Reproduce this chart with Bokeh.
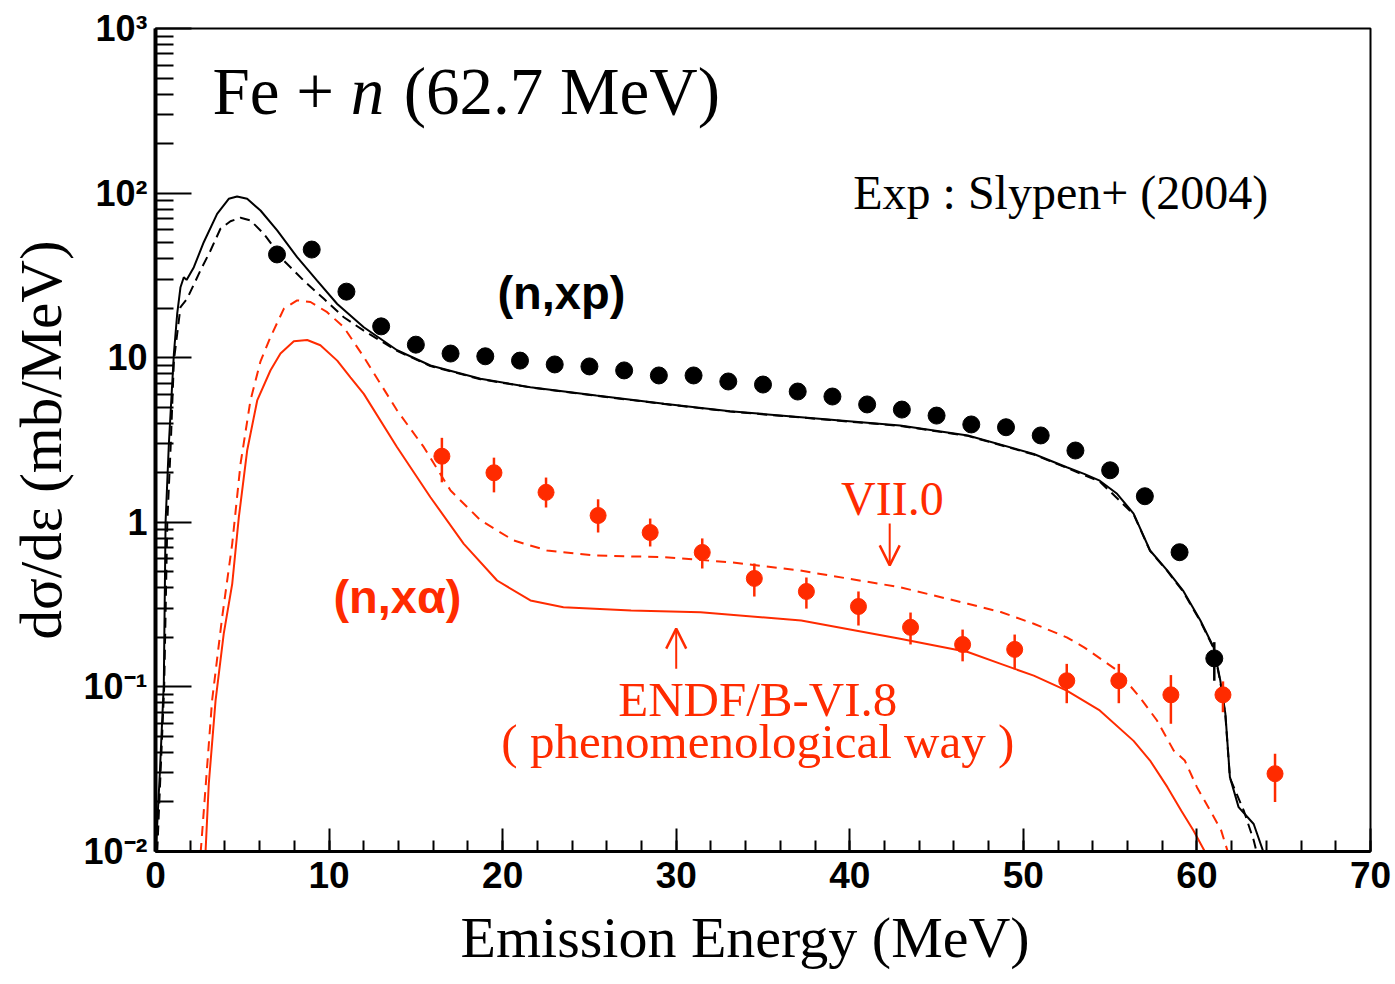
from bokeh.plotting import figure
from bokeh.models import (Label, Arrow, OpenHead, SingleIntervalTicker, FixedTicker,
                          CustomJSTickFormatter, Title)
from bokeh.embed import file_html
from bokeh.resources import INLINE

RED = "#ff2b00"
SERIF = "Liberation Serif"
SANS = "Liberation Sans"

# ---------------- data ----------------
# Experimental (n,xp) : Slypen+ (2004)
xp_exp_E = [7, 9, 11, 13, 15, 17, 19, 21, 23, 25, 27, 29, 31, 33, 35, 37, 39, 41,
            43, 45, 47, 49, 51, 53, 55, 57, 59, 61]
xp_exp_v = [42.4, 45.4, 25.2, 15.5, 12.0, 10.6, 10.2, 9.6, 9.1, 8.85, 8.37, 7.8, 7.8,
            7.17, 6.87, 6.23, 5.81, 5.2, 4.84, 4.45, 3.93, 3.78, 3.37, 2.73, 2.07,
            1.44, 0.658, 0.149]
xp_err_E = [61]
xp_err_lo = [0.109]
xp_err_hi = [0.187]

# Experimental (n,x alpha)
xa_exp_E = [16.5, 19.5, 22.5, 25.5, 28.5, 31.5, 34.5, 37.5, 40.5, 43.5, 46.5, 49.5,
            52.5, 55.5, 58.5, 61.5, 64.5]
xa_exp_v = [2.52, 2.0, 1.52, 1.10, 0.867, 0.656, 0.456, 0.38, 0.308, 0.23, 0.181,
            0.169, 0.109, 0.109, 0.0895, 0.0895, 0.0297]
xa_exp_lo = [1.75, 1.52, 1.23, 0.867, 0.713, 0.524, 0.354, 0.299, 0.236, 0.181, 0.143,
             0.128, 0.0796, 0.0796, 0.0597, 0.0702, 0.020]
xa_exp_hi = [3.26, 2.47, 1.87, 1.38, 1.054, 0.798, 0.562, 0.462, 0.38, 0.283, 0.223,
             0.208, 0.138, 0.138, 0.118, 0.108, 0.0393]

# (n,xp) calculation, solid
xp_solid_E = [0.02, 0.25, 0.48, 0.58, 0.77, 1.06, 1.25, 1.44, 1.63, 1.79, 2.21, 2.78,
              3.55, 4.22, 4.7, 5.28, 6.05, 7.01, 8.16, 9.31, 10.47, 12.0, 13.92, 15.84,
              18.72, 21.6, 25.4, 29.3, 33.1, 37.2, 42.9, 46.8, 50.6, 52.5, 53.5, 54.4,
              55.4, 56.35, 57.3, 58.3, 59.2, 60.2, 60.96, 61.35, 61.64, 61.9, 62.4,
              63.27, 63.85]
xp_solid_v = [0.01, 0.03, 0.105, 1.0, 3.0, 10.6, 18.5, 26.8, 30.8, 29.7, 35.5, 50.3,
              74.8, 92.3, 95.4, 92.3, 78.4, 59.3, 40.8, 29.4, 21.2, 15.3, 11.1, 8.97,
              7.45, 6.62, 5.89, 5.25, 4.73, 4.35, 3.87, 3.37, 2.6, 2.16, 1.97, 1.79,
              1.49, 1.13, 0.674, 0.509, 0.385, 0.253, 0.174, 0.109, 0.0686, 0.0283,
              0.0186, 0.0147, 0.0098]

# (n,xp) calculation, dashed
xp_dash_E = [0.1, 0.5, 0.68, 0.88, 1.06, 1.44, 1.82, 2.59, 3.17, 3.74, 4.32, 4.9, 5.47,
             6.24, 7.39, 8.54, 9.7, 10.85, 12.0, 13.92, 15.84, 18.72, 21.6, 25.4, 29.3,
             33.1, 37.2, 42.9, 46.8, 50.6, 52.5, 54.4, 56.35, 57.3, 58.3, 59.2, 60.2,
             60.96, 61.35, 61.64, 61.9, 62.7, 63.27, 63.45]
xp_dash_v = [0.01, 0.1, 1.0, 3.0, 9.6, 20.3, 22.8, 33.9, 44.8, 60.7, 67.5, 70.8, 68.3,
             56.6, 38.9, 29.4, 22.8, 17.6, 14.6, 11.0, 8.9, 7.4, 6.6, 5.87, 5.23, 4.71,
             4.33, 3.85, 3.35, 2.58, 2.14, 1.77, 1.12, 0.67, 0.505, 0.38, 0.25, 0.172,
             0.107, 0.067, 0.028, 0.0177, 0.0117, 0.0098]

# (n,x alpha) ENDF/B-VI.8, solid
xa_vi8_E = [2.88, 3.07, 3.46, 3.93, 4.42, 4.8, 5.28, 5.86, 6.62, 7.2, 7.97, 8.74, 9.5,
            10.47, 11.23, 12.0, 13.92, 15.84, 17.76, 19.68, 21.6, 23.5, 27.4, 31.4,
            37.2, 42.9, 46.8, 48.7, 50.6, 52.5, 54.4, 56.35, 57.3, 58.3, 59.1, 59.8,
            60.5]
xa_vi8_v = [0.0098, 0.0258, 0.0826, 0.21, 0.423, 1.07, 2.73, 5.5, 8.36, 10.6, 12.6, 12.8,
            11.9, 9.6, 7.6, 6.03, 2.86, 1.42, 0.74, 0.443, 0.335, 0.305, 0.291, 0.284,
            0.253, 0.196, 0.163, 0.138, 0.117, 0.095, 0.072, 0.047, 0.0357, 0.0246,
            0.0177, 0.0134, 0.0098]

# (n,x alpha) ENDF/B-VII.0, dashed
xa_vii0_E = [2.6, 3.26, 3.84, 4.42, 4.9, 5.47, 6.05, 6.62, 7.39, 8.16, 8.93, 9.89, 10.85,
             12.0, 13.92, 15.46, 17.0, 18.72, 20.64, 22.56, 25.4, 29.3, 33.1, 37.15,
             42.9, 46.8, 48.7, 50.6, 52.5, 53.5, 55.4, 56.7, 57.7, 58.66, 59.3, 60.0,
             60.77, 61.4, 61.8]
xa_vii0_v = [0.0098, 0.0826, 0.265, 0.74, 2.27, 5.5, 9.5, 13.3, 19.8, 22.3, 21.8, 18.9,
             15.3, 10.1, 4.78, 2.86, 1.56, 1.03, 0.775, 0.674, 0.628, 0.614, 0.572,
             0.509, 0.403, 0.32, 0.285, 0.242, 0.2, 0.174, 0.126, 0.0867, 0.0625,
             0.0411, 0.0357, 0.0246, 0.0177, 0.0134, 0.0098]

# axis ticks
y_tick_vals = [1000, 100, 10, 1, 0.1, 0.01]
y_tick_labels = ["10³", "10²", "10", "1", "10⁻¹", "10⁻²"]
y_minor = [m * 10.0 ** e for e in range(-2, 3) for m in range(2, 10)]

# ---------------- figure ----------------
p = figure(width=1395, height=984, x_range=(0, 70), y_range=(0.01, 1000),
           y_axis_type="log", output_backend="svg", toolbar_location=None,
           min_border_left=155, min_border_right=25, min_border_top=28,
           min_border_bottom=133)
p.background_fill_color = "white"
p.border_fill_color = "white"
p.outline_line_color = "black"
p.outline_line_width = 2
p.xgrid.visible = False
p.ygrid.visible = False

# x axis
p.xaxis.ticker = SingleIntervalTicker(interval=10, num_minor_ticks=5)
p.xaxis.axis_line_width = 3
p.xaxis.major_tick_in = 23
p.xaxis.major_tick_out = 0
p.xaxis.minor_tick_in = 11
p.xaxis.minor_tick_out = 0
p.xaxis.major_tick_line_width = 2
p.xaxis.minor_tick_line_width = 2
p.xaxis.major_label_text_font = SANS
p.xaxis.major_label_text_font_style = "bold"
p.xaxis.major_label_text_font_size = "37px"
p.xaxis.major_label_text_color = "black"
p.xaxis.major_label_standoff = 10

# x-axis title (placed below the axis, slightly left of centre as in the original)
p.add_layout(Title(text="Emission Energy (MeV)", align="left", offset=305,
                   standoff=25, text_font=SERIF, text_font_style="normal",
                   text_font_size="58px", text_color="black"), "below")

# y axis
p.yaxis.ticker = FixedTicker(ticks=y_tick_vals, minor_ticks=y_minor)
p.yaxis.formatter = CustomJSTickFormatter(
    args=dict(vals=y_tick_vals, labels=y_tick_labels),
    code="""
let best = 0, bd = Infinity;
for (let i = 0; i < vals.length; i++) {
  const d = Math.abs(Math.log10(tick) - Math.log10(vals[i]));
  if (d < bd) { bd = d; best = i; }
}
return labels[best];
""")
p.yaxis.axis_line_width = 4
p.yaxis.major_tick_in = 36
p.yaxis.major_tick_out = 0
p.yaxis.minor_tick_in = 18
p.yaxis.minor_tick_out = 0
p.yaxis.major_tick_line_width = 2
p.yaxis.minor_tick_line_width = 2
p.yaxis.major_label_text_font = SANS
p.yaxis.major_label_text_font_style = "bold"
p.yaxis.major_label_text_font_size = "36px"
p.yaxis.major_label_text_color = "black"
p.yaxis.major_label_standoff = 8
p.yaxis.axis_label = "dσ/dε (mb/MeV)"
p.yaxis.axis_label_text_font = SERIF
p.yaxis.axis_label_text_font_style = "normal"
p.yaxis.axis_label_text_font_size = "59px"
p.yaxis.axis_label_text_color = "black"
p.yaxis.axis_label_standoff = 6

# ---------------- curves ----------------
p.line(xp_solid_E, xp_solid_v, line_color="black", line_width=2)
p.line(xp_dash_E, xp_dash_v, line_color="black", line_width=2, line_dash="10 6")
p.line(xa_vi8_E, xa_vi8_v, line_color=RED, line_width=2)
p.line(xa_vii0_E, xa_vii0_v, line_color=RED, line_width=2, line_dash="10 7")

# ---------------- experimental points ----------------
p.segment(x0=xa_exp_E, y0=xa_exp_lo, x1=xa_exp_E, y1=xa_exp_hi,
          line_color=RED, line_width=2.5)
p.scatter(xa_exp_E, xa_exp_v, size=16, marker="circle", fill_color=RED,
          line_color=RED)
p.segment(x0=xp_err_E, y0=xp_err_lo, x1=xp_err_E, y1=xp_err_hi,
          line_color="black", line_width=2.5)
p.scatter(xp_exp_E, xp_exp_v, size=17, marker="circle", fill_color="black",
          line_color="black")

# ---------------- annotations ----------------
def lab(x, y, text, font=SERIF, size=47, color="black", style="normal",
        align="left", lift=18):
    p.add_layout(Label(x=x, y=y, y_offset=lift, text=text, text_font=font,
                       text_font_size=f"{size}px", text_color=color,
                       text_font_style=style, text_align=align,
                       text_baseline="alphabetic"))

lab(3.28, 296, "Fe +", size=67, lift=25)
lab(11.25, 296, "n", size=67, style="italic", lift=25)
lab(14.3, 296, "(62.7 MeV)", size=67, lift=25)
lab(40.2, 78.4, "Exp : Slypen+ (2004)", size=48, lift=18)
lab(19.7, 19.1, "(n,xp)", font=SANS, size=47, style="bold", lift=19)
lab(10.25, 0.272, "(n,xα)", font=SANS, size=47, style="bold", color=RED, lift=19)
lab(39.5, 1.1, "VII.0", size=48, color=RED, lift=17)
lab(34.7, 0.0643, "ENDF/B-VI.8", size=49, color=RED, align="center", lift=19)
lab(34.7, 0.0357, "( phenomenological way )", size=49, color=RED, align="center",
    lift=19)

p.add_layout(Arrow(end=OpenHead(size=20, line_color=RED, line_width=2.5),
                   x_start=42.3, y_start=0.984, x_end=42.3, y_end=0.547,
                   line_color=RED, line_width=2))
p.add_layout(Arrow(end=OpenHead(size=20, line_color=RED, line_width=2.5),
                   x_start=30.0, y_start=0.129, x_end=30.0, y_end=0.226,
                   line_color=RED, line_width=2))

open("out.html", "w").write(file_html(p, INLINE))
